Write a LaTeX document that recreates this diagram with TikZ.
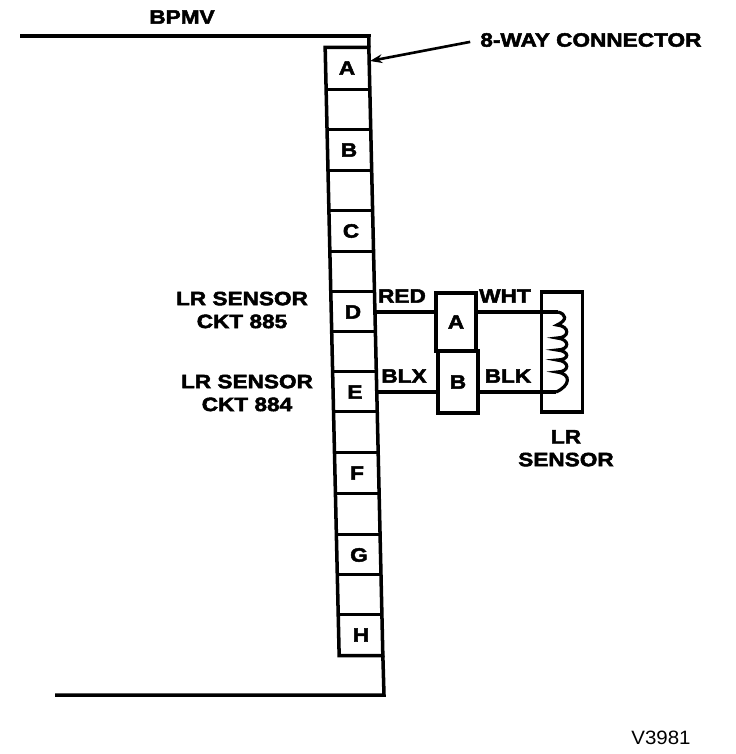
\documentclass[tikz,border=0pt]{standalone}
\usepackage{fontspec}
\setmainfont{Liberation Sans}[FakeStretch=1.06, BoldFeatures={FakeStretch=1.17, FakeBold=2.5}]
\usetikzlibrary{positioning,arrows.meta,calc}

\begin{document}
\begin{tikzpicture}[
        x=0.02cm, y=-0.02cm,
        cell/.style={rectangle, minimum width=0.86cm, minimum height=0.81cm, inner sep=0pt, font=\fontsize{11}{13}\selectfont\bfseries},
        plug/.style={rectangle, draw, line width=2pt, minimum width=0.8cm, inner sep=0pt, font=\fontsize{11}{13}\selectfont\bfseries},
        wire/.style={line width=1.8pt},
        outline/.style={line width=2pt},
        lbl/.style={font=\fontsize{11}{13}\selectfont\bfseries, align=center, inner sep=0pt}
    ]
    \useasboundingbox (0,0) rectangle (736,754);

    % Housing of the valve
    \coordinate (topstart) at (20,36);
    \coordinate (topcorner) at (369,36);
    \coordinate (botstart) at (55,695);
    \coordinate (botcorner) at (384,695);

    % Connector cavities, top to bottom
    \node[cell] (cellA) at (347,68) {A};
    \node[cell] (cellAB) at (348,110) {};
    \node[cell] (cellB) at (349,150) {B};
    \node[cell] (cellBC) at (350,191) {};
    \node[cell] (cellC) at (351,231) {C};
    \node[cell] (cellCD) at (352,272) {};
    \node[cell] (cellD) at (353,312) {D};
    \node[cell] (cellDE) at (354,352) {};
    \node[cell] (cellE) at (355,392) {E};
    \node[cell] (cellEF) at (356,432) {};
    \node[cell] (cellF) at (357,473) {F};
    \node[cell] (cellFG) at (358,514) {};
    \node[cell] (cellG) at (359,555) {G};
    \node[cell] (cellGH) at (360,595) {};
    \node[cell] (cellH) at (361,635) {H};

    % Connector walls and dividers
    \draw[outline] (cellA.north west) -- (cellA.north east) -- (cellH.south east) -- (cellH.south west) -- cycle;
    \foreach \c in {cellAB,cellB,cellBC,cellC,cellCD,cellD,cellDE,cellE,cellEF,cellF,cellFG,cellG,cellGH,cellH}
        \draw[outline] (\c.north west) -- (\c.north east);

    \draw[outline] (topstart) -- (topcorner) -- (cellA.north east);
    \draw[outline] (botstart) -- (botcorner) -- (cellH.south east);

    % Harness plug
    \node[plug, minimum height=1.16cm] (plugA) at (456,322) {A};
    \node[plug, minimum height=1.24cm] (plugB) at (458,382) {B};

    % Sensor body and coil
    \node[rectangle, draw, line width=2pt, minimum width=0.82cm, minimum height=2.4cm] (sensor) at (562,352) {};
    \coordinate (coiltop) at (558,312);
    \coordinate (coilbot) at (556,392);
    \draw[wire] (coiltop) .. controls (566,314) and (568,320) .. (557,325)
        .. controls (570,326) and (570,338) .. (557,338)
        .. controls (570,339) and (570,350) .. (557,350)
        .. controls (570,351) and (570,360) .. (557,360)
        .. controls (570,361) and (570,372) .. (557,372)
        .. controls (572,374) and (570,386) .. (coilbot);

    % Wires
    \draw[wire] (cellD.east) -- (cellD.east -| plugA.west);
    \draw[wire] (cellE.east) -- (cellE.east -| plugB.west);
    \draw[wire] (plugA.east |- cellD) -- (coiltop);
    \draw[wire] (plugB.east |- cellE) -- (coilbot);

    % Labels
    \node[lbl] (bpmv) at (182,17) {BPMV};
    \node[lbl, anchor=west] (way) at (480,40) {8-WAY CONNECTOR};
    \node[lbl] (ckt885) at (242,310) {LR SENSOR\\CKT 885};
    \node[lbl] (ckt884) at (247,393) {LR SENSOR\\CKT 884};
    \node[lbl] (red) at (402,296) {RED};
    \node[lbl] (blxleft) at (404,376) {BLX};
    \node[lbl] (wht) at (505,296) {WHT};
    \node[lbl] (blkright) at (508,376) {BLK};
    \node[lbl, below=0.32cm of sensor, xshift=0.08cm] (lrsensor) {LR\\SENSOR};
    \node[font=\fontsize{11}{13}\selectfont, inner sep=0pt] (code) at (661,738) {V3981};

    % Leader to the connector
    \draw[-{Stealth[length=7pt,width=5pt]}, line width=1.5pt, shorten <=0.2cm] (way.west) -- (370,61);

    \end{tikzpicture}
\end{document}
